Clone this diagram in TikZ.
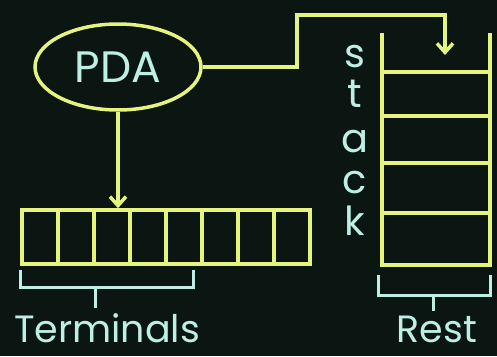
\documentclass[tikz,border=0pt]{standalone}
\usepackage{fontspec}
\setmainfont{Poppins}
\usetikzlibrary{shapes.geometric,arrows.meta}
\definecolor{board}{HTML}{0B1512}
\definecolor{chalk}{HTML}{E4F47C}
\definecolor{chalktext}{HTML}{BDEFE4}

\begin{document}
\begin{tikzpicture}[
    x=1pt, y=-1pt,
    line/.style={
        draw=chalk,
        line width=3.5pt
    },
    cell/.style={
        draw=chalk,
        line width=3.5pt,
        rectangle,
        minimum width=36pt,
        minimum height=54pt,
        inner sep=0pt
    },
    label/.style={
        text=chalktext,
        inner sep=0pt,
        font=\fontsize{38}{44}\selectfont
    },
    letter/.style={
        text=chalktext,
        inner sep=0pt,
        font=\fontsize{40}{44}\selectfont
    },
    bracket/.style={
        draw=chalktext,
        line width=3pt
    }
]

    % Sfondo lavagna
    \fill[board] (0,0) rectangle (497,356);
    \useasboundingbox (0,0) rectangle (497,356);

    % Automa
    \node[line, ellipse, minimum width=166pt, minimum height=86pt,
          text=chalktext, font=\fontsize{44}{50}\selectfont] (pda) at (118,67) {PDA};

    % Nastro di input
    \foreach \i in {1,...,8}
        \node[cell] (cell\i) at ({40+36*(\i-1)},237) {};

    % Pila aperta in alto
    \coordinate (stack_tl) at (382,33);
    \coordinate (stack_bl) at (382,265);
    \coordinate (stack_br) at (490,265);
    \coordinate (stack_tr) at (490,33);
    \draw[line] (stack_tl) -- (stack_bl) -- (stack_br) -- (stack_tr);
    \foreach \y in {72,116,163,213}
        \draw[line] (382,\y) -- (490,\y);

    % Scritta verticale
    \foreach \l/\y in {s/67, t/107, a/152, c/193, k/235}
        \node[letter, anchor=base] at (355,\y) {\l};

    % Frecce
    \coordinate (bend) at (297,15);
    \coordinate (push) at (445,55);
    \draw[line, -{Straight Barb[length=9pt,width=16pt]}] (pda.south) -- (pda.south |- cell3.north);
    \draw[line, -{Straight Barb[length=9pt,width=16pt]}] (pda.east) -| (bend) -| (push);

    % Parentesi in basso
    \draw[bracket] (20,270) -- (20,287) -- (193,287) -- (193,270);
    \draw[bracket] (95,287) -- (95,308);
    \node[label, anchor=base] (terminals) at (107,342) {Terminals};

    \draw[bracket] (378,275) -- (378,295) -- (490,295) -- (490,275);
    \draw[bracket] (433,295) -- (433,311);
    \node[label, anchor=base] (rest) at (437,342) {Rest};

\end{tikzpicture}
\end{document}
